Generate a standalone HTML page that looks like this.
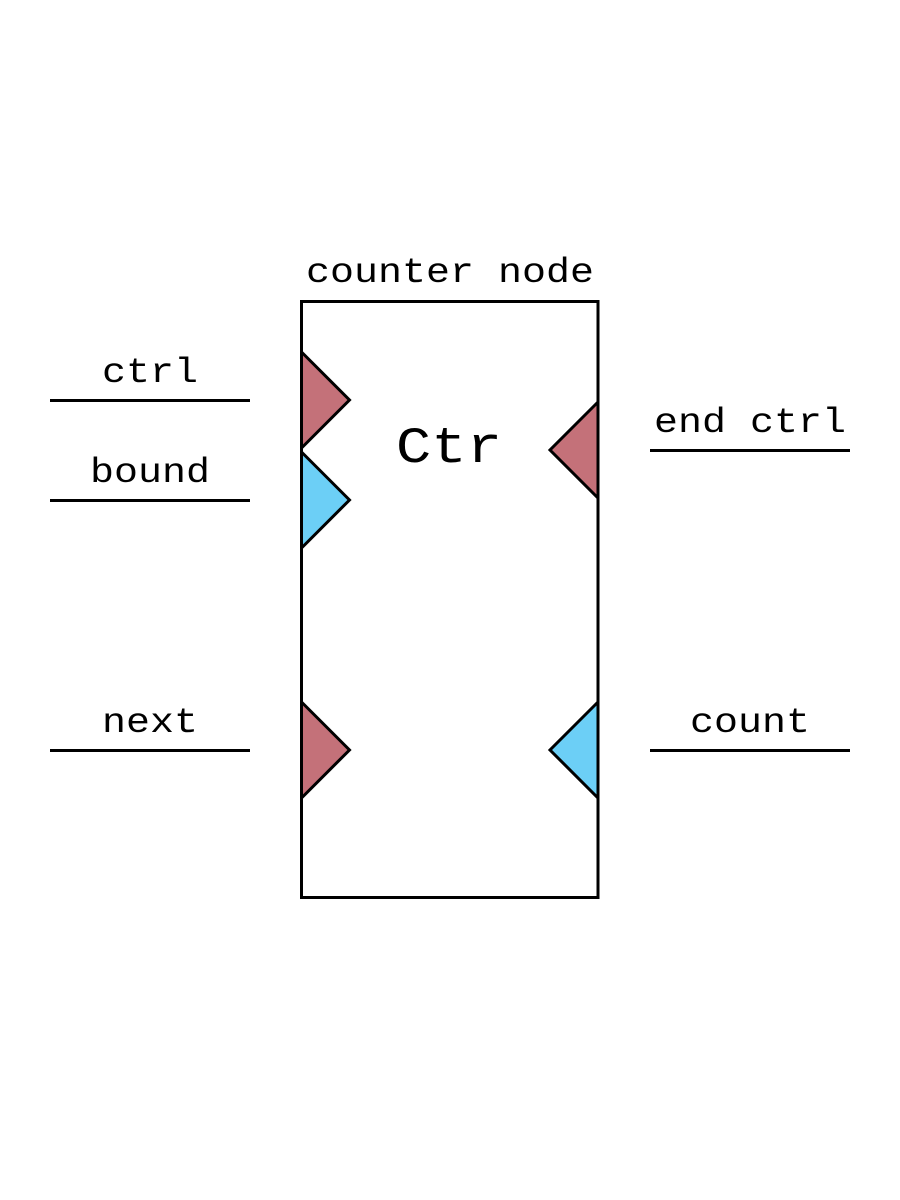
<!DOCTYPE html>
<html>
<head>
<meta charset="utf-8">
<style>
  html, body { margin: 0; padding: 0; background: #ffffff; }
  svg { display: block; }
  text { font-family: "Liberation Mono", "Courier New", monospace; fill: #000; }
</style>
</head>
<body>
<svg width="900" height="1200" viewBox="0 0 900 1200" xmlns="http://www.w3.org/2000/svg">
  <rect x="0" y="0" width="900" height="1200" fill="#ffffff"/>

  <!-- title -->
  <text transform="translate(450,282) scale(1,0.88)" font-size="40" text-anchor="middle">counter node</text>

  <!-- node box -->
  <rect x="301.5" y="301.5" width="296.5" height="596" fill="#ffffff" stroke="#000" stroke-width="3"/>

  <!-- center label -->
  <text transform="translate(449,462) scale(1,0.86)" font-size="59" text-anchor="middle">Ctr</text>

  <!-- left ports -->
  <polygon points="301.5,352 349.5,400 301.5,448" fill="#c47179" stroke="#000" stroke-width="3"/>
  <polygon points="301.5,452 349.5,500 301.5,548" fill="#6ccff6" stroke="#000" stroke-width="3"/>
  <polygon points="301.5,702 349.5,750 301.5,798" fill="#c47179" stroke="#000" stroke-width="3"/>

  <!-- right ports -->
  <polygon points="598,402 550,450 598,498" fill="#c47179" stroke="#000" stroke-width="3"/>
  <polygon points="598,702 550,750 598,798" fill="#6ccff6" stroke="#000" stroke-width="3"/>

  <!-- left port lines + labels -->
  <line x1="50" y1="400.5" x2="250" y2="400.5" stroke="#000" stroke-width="3"/>
  <text transform="translate(150,382) scale(1,0.88)" font-size="40" text-anchor="middle">ctrl</text>

  <line x1="50" y1="500.5" x2="250" y2="500.5" stroke="#000" stroke-width="3"/>
  <text transform="translate(150,482) scale(1,0.88)" font-size="40" text-anchor="middle">bound</text>

  <line x1="50" y1="750.5" x2="250" y2="750.5" stroke="#000" stroke-width="3"/>
  <text transform="translate(150,732) scale(1,0.88)" font-size="40" text-anchor="middle">next</text>

  <!-- right port lines + labels -->
  <line x1="650" y1="450.5" x2="850" y2="450.5" stroke="#000" stroke-width="3"/>
  <text transform="translate(750,432) scale(1,0.88)" font-size="40" text-anchor="middle">end ctrl</text>

  <line x1="650" y1="750.5" x2="850" y2="750.5" stroke="#000" stroke-width="3"/>
  <text transform="translate(750,732) scale(1,0.88)" font-size="40" text-anchor="middle">count</text>
</svg>
</body>
</html>
